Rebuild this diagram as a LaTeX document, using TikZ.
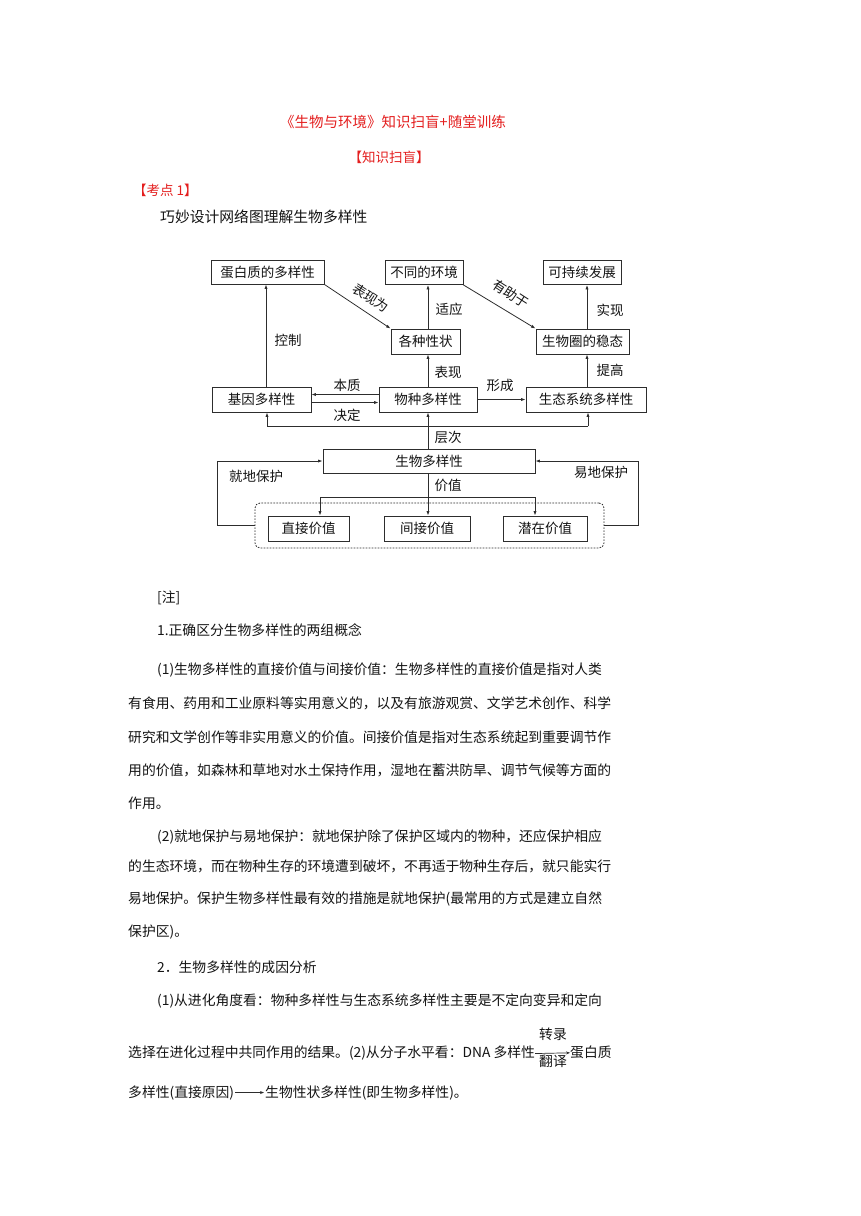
\documentclass[tikz,border=0pt]{standalone}
\usepackage{fontspec}
\setmainfont{Noto Sans CJK SC}
\usetikzlibrary{arrows.meta}
\definecolor{ttlred}{RGB}{228,30,30}
\definecolor{lncol}{RGB}{45,45,45}
\definecolor{txtcol}{RGB}{20,20,20}
\newcommand\dgfont{\fontsize{13.5}{16}\selectfont}
\newcommand\bdfont{\fontsize{13.8}{16}\selectfont}
\begin{document}
\begin{tikzpicture}[x=1pt,y=-1pt,
  box/.style={draw=lncol,line width=0.9pt,inner sep=0pt,minimum height=24pt,font=\dgfont,text=txtcol},
  lbl/.style={inner sep=0pt,font=\dgfont,text=txtcol},
  conn/.style={draw=lncol,line width=0.8pt},
  arr/.style={conn,-{Latex[length=4.5pt,width=3.2pt]}},
  body/.style={anchor=base west,inner sep=0pt,font=\bdfont,text=txtcol},
]
\fill[white] (0,0) rectangle (860,1216);
\useasboundingbox (0,0) rectangle (860,1216);

% headings
\node[inner sep=0pt,font=\fontsize{14.5}{16}\selectfont,text=ttlred] (title) at (393,122) {《生物与环境》知识扫盲+随堂训练};
\node[inner sep=0pt,font=\fontsize{13.5}{16}\selectfont,text=ttlred] (sub) at (389,157) {【知识扫盲】};
\node[anchor=west,inner sep=0pt,font=\fontsize{13.5}{16}\selectfont,text=ttlred] (kd) at (133,190) {【考点 1】};
\node[anchor=west,inner sep=0pt,font=\fontsize{14.8}{16}\selectfont,text=txtcol] (qm) at (160,217) {巧妙设计网络图理解生物多样性};

% diagram boxes
\node[box,minimum width=113pt] (dbz) at (267.5,272) {蛋白质的多样性};
\node[box,minimum width=78pt] (btd) at (424,272.5) {不同的环境};
\node[box,minimum width=78pt] (kcx) at (582,272.5) {可持续发展};
\node[box,minimum width=69pt,minimum height=25pt] (gzx) at (425.5,341.5) {各种性状};
\node[box,minimum width=93pt,minimum height=25pt] (swq) at (582.5,341.5) {生物圈的稳态};
\node[box,minimum width=99pt,minimum height=25pt] (jy) at (261.5,399.5) {基因多样性};
\node[box,minimum width=98pt,minimum height=25pt] (wz) at (428,399.5) {物种多样性};
\node[box,minimum width=120pt,minimum height=25pt] (st) at (586,399.5) {生态系统多样性};
\node[box,minimum width=212pt] (swdy) at (429,461) {生物多样性};
\node[box,minimum width=81pt,minimum height=25pt] (zj) at (308.5,528.5) {直接价值};
\node[box,minimum width=86pt,minimum height=25pt] (jj) at (427,528.5) {间接价值};
\node[box,minimum width=84pt,minimum height=25pt] (qz) at (545,528.5) {潜在价值};
\node[draw=lncol,line width=0.8pt,dash pattern=on 1.6pt off 1.4pt,rounded corners=5pt,inner sep=0pt,minimum width=349pt,minimum height=45pt] (grp) at (429.5,525.5) {};

% column coordinates
\coordinate (xL) at (266,0);
\coordinate (xM) at (428,0);
\coordinate (xR) at (587,0);
\coordinate (lL) at (217,0);
\coordinate (lR) at (638,0);
\coordinate (h1) at (267,426);
\coordinate (h2) at (588,426);
\coordinate (v1) at (320,497);
\coordinate (v2) at (535,497);

% connectors
\draw[arr] (jy.north -| xL) -- (dbz.south -| xL);
\draw[arr] (wz.north -| xM) -- (gzx.south -| xM);
\draw[arr] (gzx.north -| xM) -- (btd.south -| xM);
\draw[arr] (st.north -| xR) -- (swq.south -| xR);
\draw[arr] (swq.north -| xR) -- (kcx.south -| xR);
\draw[arr] (dbz.south east) -- (gzx.north west);
\draw[arr] (btd.south east) -- (swq.north west);
\draw[arr] ([yshift=5pt]wz.west) -- ([yshift=5pt]jy.east);
\draw[arr] ([yshift=-3pt]jy.east) -- ([yshift=-3pt]wz.west);
\draw[arr] (wz.east) -- (st.west);
\draw[arr] (swdy.north -| xM) -- (wz.south -| xM);
\draw[arr] (h1) -- (jy.south -| h1);
\draw[conn] (h1) -- (h2);
\draw[arr] (h2) -- (st.south -| h2);
\draw[arr] (swdy.south -| xM) -- (jj.north -| xM);
\draw[arr] (v1) -- (zj.north -| v1);
\draw[conn] (v1) -- (v2);
\draw[arr] (v2) -- (qz.north -| v2);
\draw[arr] (grp.west) -- (grp.west -| lL) |- (swdy.west);
\draw[arr] (grp.east) -- (grp.east -| lR) |- (swdy.east);

% connector labels
\node[lbl] (lkz) at (288,340) {控制};
\node[lbl,rotate=-33] (lbxw) at (371,298) {表现为};
\node[lbl] (lsy) at (449,309) {适应};
\node[lbl,rotate=-33] (lyzy) at (511,294) {有助于};
\node[lbl] (lsx) at (610,310) {实现};
\node[lbl] (lbx) at (448,372) {表现};
\node[lbl] (ltg) at (610,370) {提高};
\node[lbl] (lbz) at (347,385) {本质};
\node[lbl] (ljd) at (347,415) {决定};
\node[lbl] (lxc) at (500,385) {形成};
\node[lbl] (lcc) at (448,437) {层次};
\node[lbl] (ljdbh) at (256,476) {就地保护};
\node[lbl] (lydbh) at (601,472) {易地保护};
\node[lbl] (ljz) at (448,485) {价值};

% body text
\node[body] (t1) at (157,602) {[注]};
\node[body] (t2) at (157,635) {1.正确区分生物多样性的两组概念};
\node[body] (t3) at (157,674) {(1)生物多样性的直接价值与间接价值：生物多样性的直接价值是指对人类};
\node[body] (t4) at (128,708) {有食用、药用和工业原料等实用意义的，以及有旅游观赏、文学艺术创作、科学};
\node[body] (t5) at (128,742) {研究和文学创作等非实用意义的价值。间接价值是指对生态系统起到重要调节作};
\node[body] (t6) at (128,775) {用的价值，如森林和草地对水土保持作用，湿地在蓄洪防旱、调节气候等方面的};
\node[body] (t7) at (128,808) {作用。};
\node[body] (t8) at (157,841) {(2)就地保护与易地保护：就地保护除了保护区域内的物种，还应保护相应};
\node[body] (t9) at (128,871) {的生态环境，而在物种生存的环境遭到破坏，不再适于物种生存后，就只能实行};
\node[body] (t10) at (128,903) {易地保护。保护生物多样性最有效的措施是就地保护(最常用的方式是建立自然};
\node[body] (t11) at (128,936) {保护区)。};
\node[body] (t12) at (157,972) {2．生物多样性的成因分析};
\node[body] (t13) at (157,1005) {(1)从进化角度看：物种多样性与生态系统多样性主要是不定向变异和定向};
\node[body] (t14a) at (128,1057) {选择在进化过程中共同作用的结果。(2)从分子水平看：DNA 多样性};
\node[body] (t14b) at (570,1057) {蛋白质};
\draw[conn,line width=0.7pt,-{Stealth[length=4pt,width=3pt]}] ([yshift=-1pt]t14a.east) -- ([yshift=-1pt]t14b.west);
\node[lbl,font=\bdfont] (zl) at (553,1034) {转录};
\node[lbl,font=\bdfont] (fy) at (553,1061) {翻译};
\node[body] (t15a) at (128,1097) {多样性(直接原因)};
\node[body] (t15b) at (265,1097) {生物性状多样性(即生物多样性)。};
\draw[conn,line width=0.7pt,-{Stealth[length=4pt,width=3pt]}] ([xshift=1pt]t15a.east) -- ([xshift=-1pt]t15b.west);
\end{tikzpicture}
\end{document}
